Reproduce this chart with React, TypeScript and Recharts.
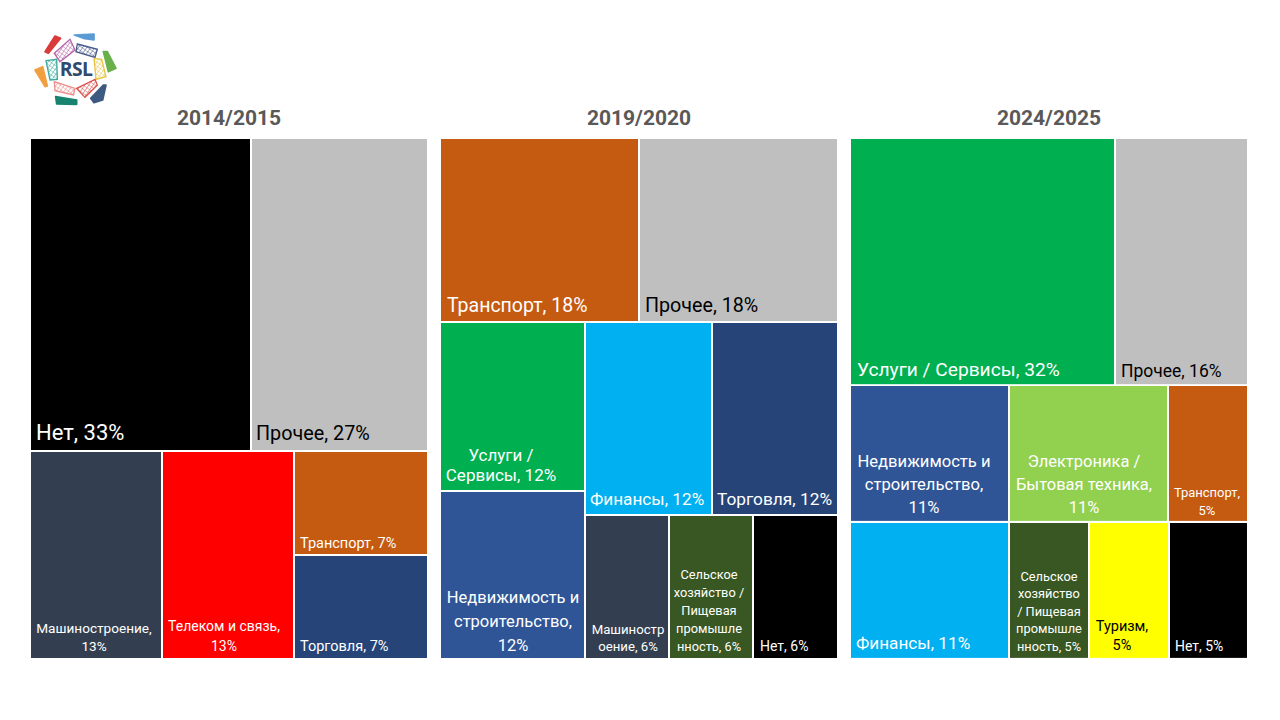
// App.tsx - three treemaps of sector shares per season
import { Treemap } from 'recharts'

const FONT = 'Roboto, sans-serif'

const names2014 = ['Нет', 'Прочее', 'Машиностроение', 'Телеком и связь', 'Транспорт', 'Торговля']
const values2014 = [33.3, 26.7, 13.3, 13.3, 6.7, 6.7]
const strips2014 = [[[0, 1], [2, 3, [4, 5]]]]

const names2019 = ['Транспорт', 'Прочее', 'Услуги', 'Недвижимость', 'Финансы', 'Торговля', 'Машиностроение', 'Сельское', 'Нет']
const values2019 = [18, 18, 12, 12, 12, 12, 6, 6, 6]
const strips2019 = [[[0, 1], [[2, 3], [[4, 5], [6, 7, 8]]]]]

const names2024 = ['Услуги', 'Прочее', 'Недвижимость', 'Электроника', 'Транспорт', 'Финансы', 'Сельское', 'Туризм', 'Нет']
const values2024 = [31.6, 15.8, 10.5, 10.5, 5.25, 10.5, 5.25, 5.25, 5.25]
const strips2024 = [[0, 1], [2, 3, 4], [5, 6, 7, 8]]

const seasons = ['2014/2015', '2019/2020', '2024/2025']

const COLORS: Record<string, string> = {
  Нет: '#000000',
  Прочее: '#BFBFBF',
  Машиностроение: '#333F50',
  'Телеком и связь': '#FF0000',
  Транспорт: '#C55A11',
  Торговля: '#264478',
  Услуги: '#00B050',
  Недвижимость: '#2F5597',
  Финансы: '#00B0F0',
  Сельское: '#385723',
  Электроника: '#92D050',
  Туризм: '#FFFF00',
}

// label: text lines, font size, anchor, x inside the cell, last baseline above cell bottom, line step
type Label = { lines: string[]; size: number; mid?: boolean; dx: number; up: number; step?: number; dark?: boolean }

const LABELS_2014: Record<string, Label> = {
  Нет: { lines: ['Нет, 33%'], size: 22, dx: 6, up: 11 },
  Прочее: { lines: ['Прочее, 27%'], size: 19.8, dx: 5, up: 11, dark: true },
  Машиностроение: { lines: ['Машиностроение,', '13%'], size: 13.6, mid: true, dx: 64, up: 8, step: 18 },
  'Телеком и связь': { lines: ['Телеком и связь,', '13%'], size: 14, mid: true, dx: 62, up: 8, step: 20 },
  Транспорт: { lines: ['Транспорт, 7%'], size: 14.5, dx: 6, up: 7 },
  Торговля: { lines: ['Торговля, 7%'], size: 14.5, dx: 6, up: 8 },
}

const LABELS_2019: Record<string, Label> = {
  Транспорт: { lines: ['Транспорт, 18%'], size: 19.5, dx: 7, up: 10 },
  Прочее: { lines: ['Прочее, 18%'], size: 19.7, dx: 6, up: 10, dark: true },
  Услуги: { lines: ['Услуги /', 'Сервисы, 12%'], size: 17, mid: true, dx: 61, up: 10, step: 20 },
  Финансы: { lines: ['Финансы, 12%'], size: 17.2, dx: 5, up: 10 },
  Торговля: { lines: ['Торговля, 12%'], size: 17.3, dx: 5, up: 10 },
  Недвижимость: { lines: ['Недвижимость и', 'строительство,', '12%'], size: 16.5, mid: true, dx: 73, up: 8, step: 24 },
  Машиностроение: { lines: ['Машиностр', 'оение, 6%'], size: 13.2, mid: true, dx: 43, up: 8, step: 17 },
  Сельское: { lines: ['Сельское', 'хозяйство /', 'Пищевая', 'промышле', 'нность, 6%'], size: 12.8, mid: true, dx: 40, up: 8, step: 18 },
  Нет: { lines: ['Нет, 6%'], size: 14, dx: 7, up: 8 },
}

const LABELS_2024: Record<string, Label> = {
  Услуги: { lines: ['Услуги / Сервисы, 32%'], size: 19.2, dx: 7, up: 9 },
  Прочее: { lines: ['Прочее, 16%'], size: 17.5, dx: 6, up: 8, dark: true },
  Недвижимость: { lines: ['Недвижимость и', 'строительство,', '11%'], size: 16.6, mid: true, dx: 74, up: 9, step: 23 },
  Электроника: { lines: ['Электроника /', 'Бытовая техника,', '11%'], size: 16.5, mid: true, dx: 75, up: 9, step: 23 },
  Транспорт: { lines: ['Транспорт,', '5%'], size: 13, mid: true, dx: 39, up: 7, step: 18 },
  Финансы: { lines: ['Финансы, 11%'], size: 17.2, dx: 6, up: 10 },
  Сельское: { lines: ['Сельское', 'хозяйство', '/ Пищевая', 'промышле', 'нность, 5%'], size: 12.8, mid: true, dx: 40, up: 8, step: 17.5 },
  Туризм: { lines: ['Туризм,', '5%'], size: 14.5, mid: true, dx: 33, up: 9, step: 19, dark: true },
  Нет: { lines: ['Нет, 5%'], size: 14, dx: 6, up: 8 },
}

const buildNode = (node: any, names: string[], values: number[]): any =>
  Array.isArray(node)
    ? { name: 'group', children: node.map((n) => buildNode(n, names, values)) }
    : { name: names[node], value: values[node] }

const sumNode = (node: any, values: number[]): number =>
  Array.isArray(node) ? node.reduce((s, n) => s + sumNode(n, values), 0) : values[node]

function TreeCell(props: any) {
  const { x, y, width, height, name, children, labels } = props
  if (children && children.length) return null
  if (!COLORS[name]) return null
  const label: Label | undefined = labels[name]
  const step = label?.step ?? 0
  return (
    <g>
      <rect x={x} y={y} width={width} height={height} fill={COLORS[name]} stroke="#FFFFFF" strokeWidth={2} />
      {label?.lines.map((line, i) => (
        <text
          key={i}
          x={x + label.dx}
          y={y + height - label.up - (label.lines.length - 1 - i) * step}
          textAnchor={label.mid ? 'middle' : 'start'}
          fontSize={label.size}
          fontFamily={FONT}
          stroke="none"
          fill={label.dark ? '#000000' : '#FFFFFF'}
        >
          {line}
        </text>
      ))}
    </g>
  )
}

const PANEL_W = 398
const PANEL_H = 521
const PANEL_TOP = 138

function Panel({ left, title, names, values, strips, labels }: any) {
  const total = values.reduce((s: number, v: number) => s + v, 0)
  let top = PANEL_TOP
  return (
    <>
      <div
        style={{
          position: 'absolute',
          left,
          top: 103,
          width: PANEL_W,
          textAlign: 'center',
          fontFamily: FONT,
          fontWeight: 700,
          fontSize: 21,
          lineHeight: '30px',
          color: '#595959',
        }}
      >
        {title}
      </div>
      {strips.map((strip: any, i: number) => {
        const h = (PANEL_H * sumNode(strip, values)) / total
        const stripTop = top
        top += h
        return (
          <div key={i} style={{ position: 'absolute', left, top: stripTop }}>
            <Treemap
              width={PANEL_W}
              height={h}
              data={strip.map((n: any) => buildNode(n, names, values))}
              dataKey="value"
              nameKey="name"
              aspectRatio={1}
              stroke="#FFFFFF"
              isAnimationActive={false}
              content={<TreeCell labels={labels} />}
            />
          </div>
        )
      })}
    </>
  )
}

const TILES = [
  { pts: '103,100 150,58 165,90 120,125', color: '#B565A7' },
  { pts: '172,72 232,88 225,112 168,95', color: '#4A5A8A' },
  { pts: '222,115 245,118 258,170 228,178', color: '#E8C547' },
  { pts: '170,205 225,178 232,195 195,232', color: '#D9534F' },
  { pts: '103,185 165,205 160,225 105,212', color: '#EE8B8B' },
  { pts: '78,122 110,118 112,178 90,180', color: '#3BA99C' },
]

const PETALS = [
  { pts: '75,95 105,48 122,55 85,100', color: '#D93A3A' },
  { pts: '163,45 222,42 222,60 190,55', color: '#5B9BD5' },
  { pts: '250,95 262,95 288,145 265,155', color: '#6AB04A' },
  { pts: '212,235 250,195 258,195 248,240 222,248', color: '#3D5A80' },
  { pts: '107,230 170,240 170,253 110,252', color: '#17836F' },
  { pts: '45,150 68,140 82,198 75,200', color: '#F0A040' },
]

function Logo() {
  return (
    <svg width={120} height={100} viewBox="0 0 360 300" style={{ position: 'absolute', left: 20, top: 20 }}>
      <defs>
        {TILES.map((t, i) => (
          <pattern key={i} id={`tile${i}`} width={10} height={10} patternUnits="userSpaceOnUse" patternTransform="rotate(35)">
            <rect width={10} height={10} fill="#FFFFFF" />
            <path d="M0 0H10M0 0V10" stroke={t.color} strokeWidth={3} />
          </pattern>
        ))}
      </defs>
      {PETALS.map((p, i) => (
        <polygon key={i} points={p.pts} fill={p.color} stroke={p.color} strokeWidth={5} strokeLinejoin="round" />
      ))}
      {TILES.map((t, i) => (
        <polygon key={i} points={t.pts} fill={`url(#tile${i})`} stroke={t.color} strokeWidth={4} />
      ))}
      <text x={168} y={167} textAnchor="middle" fontSize={58} fontWeight={700} fontFamily="'Open Sans', sans-serif" fill="#2F4A6D" letterSpacing={-2}>
        RSL
      </text>
    </svg>
  )
}

export default function App() {
  return (
    <div style={{ position: 'absolute', left: 0, top: 0, width: 1280, height: 720, background: '#FFFFFF', overflow: 'hidden' }}>
      <Logo />
      <Panel left={30} title={seasons[0]} names={names2014} values={values2014} strips={strips2014} labels={LABELS_2014} />
      <Panel left={440} title={seasons[1]} names={names2019} values={values2019} strips={strips2019} labels={LABELS_2019} />
      <Panel left={850} title={seasons[2]} names={names2024} values={values2024} strips={strips2024} labels={LABELS_2024} />
    </div>
  )
}
